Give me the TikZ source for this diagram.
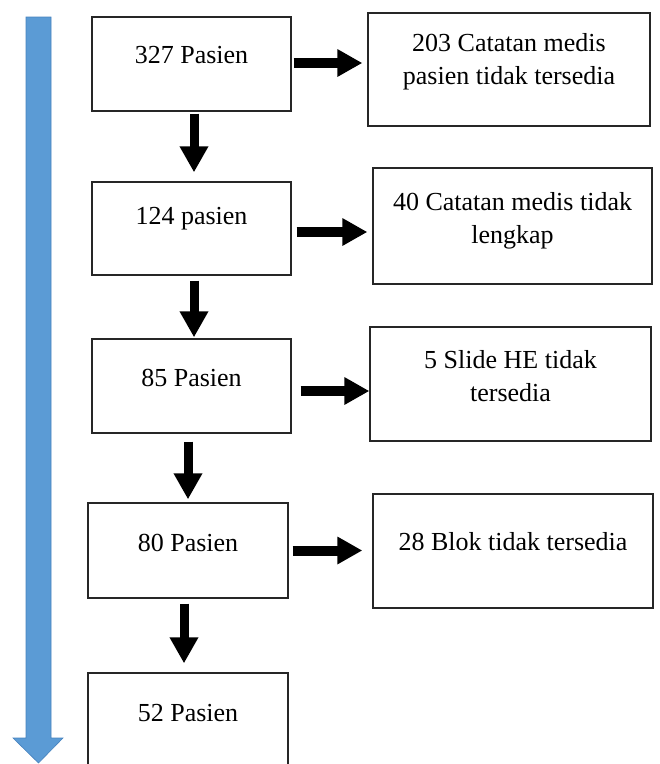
\documentclass[tikz,border=0pt]{standalone}
\usepackage{fontspec}
\setmainfont{Liberation Serif}
\usetikzlibrary{arrows.meta}
\definecolor{flowblue}{RGB}{91,155,213}
\definecolor{flowblueedge}{RGB}{70,130,190}
\begin{document}
\begin{tikzpicture}[x=1pt,y=-1pt,
  box/.style={draw=black!85, line width=1.3pt, rectangle, inner sep=0pt},
  txt/.style={font=\fontsize{26}{33}\selectfont, align=center, inner sep=0pt, text=black},
  darr/.style={line width=9pt, -{Triangle[width=27pt,length=26pt]}},
  rarr/.style={line width=10pt, -{Triangle[width=26pt,length=25pt]}}]
\useasboundingbox (0,0) rectangle (660,764);
% blue timeline arrow
\path[fill=flowblue, draw=flowblueedge, line width=0.6pt]
  (26,17) -- (51,17) -- (51,738) -- (63,738) -- (38.5,763) -- (13,738) -- (26,738) -- cycle;
% left boxes
\node[box, minimum width=199pt, minimum height=94pt] (b1) at (191.5,64) {};
\node[box, minimum width=199pt, minimum height=93pt] (b2) at (191.5,228.5) {};
\node[box, minimum width=199pt, minimum height=94pt] (b3) at (191.5,386) {};
\node[box, minimum width=200pt, minimum height=95pt] (b4) at (188,550.5) {};
\node[box, minimum width=200pt, minimum height=96pt] (b5) at (188,721) {};
\node[txt] (t1) at (191.5,55) {327 Pasien};
\node[txt] (t2) at (191.5,219) {124 pasien};
\node[txt] (t3) at (191.5,378) {85 Pasien};
\node[txt] (t4) at (188,543) {80 Pasien};
\node[txt] (t5) at (188,713) {52 Pasien};
% right boxes
\node[box, minimum width=282pt, minimum height=113pt] (r1) at (509,69.5) {};
\node[box, minimum width=279pt, minimum height=116pt] (r2) at (512.5,226) {};
\node[box, minimum width=281pt, minimum height=114pt] (r3) at (510.5,384) {};
\node[box, minimum width=280pt, minimum height=114pt] (r4) at (513,551) {};
\node[txt] (s1) at (509,62) {203 Catatan medis\\pasien tidak tersedia};
\node[txt] (s2) at (512.5,221) {40 Catatan medis tidak\\lengkap};
\node[txt] (s3) at (510.5,376) {5 Slide HE tidak\\tersedia};
\node[txt] (s4) at (513,542) {28 Blok tidak tersedia};
% down arrows
\draw[darr, shorten <=2pt, shorten >=9pt] ([xshift=2.5pt]b1.south) -- ([xshift=2.5pt]b1.south |- b2.north);
\draw[darr, shorten <=5pt, shorten >=1pt] ([xshift=2.5pt]b2.south) -- ([xshift=2.5pt]b2.south |- b3.north);
\draw[darr, shorten <=8pt, shorten >=3pt] ([xshift=-3.5pt]b3.south) -- ([xshift=-3.5pt]b3.south |- b4.north);
\draw[darr, shorten <=5pt, shorten >=9pt] ([xshift=-4pt]b4.south) -- ([xshift=-4pt]b4.south |- b5.north);
% right arrows
\draw[rarr, shorten <=2pt, shorten >=5pt] ([yshift=1pt]b1.east) -- ([yshift=1pt]b1.east -| r1.west);
\draw[rarr, shorten <=5pt, shorten >=5pt] ([yshift=-3.5pt]b2.east) -- ([yshift=-3.5pt]b2.east -| r2.west);
\draw[rarr, shorten <=9pt, shorten >=0pt] ([yshift=-5pt]b3.east) -- ([yshift=-5pt]b3.east -| r3.west);
\draw[rarr, shorten <=4pt, shorten >=10pt] (b4.east) -- (b4.east -| r4.west);
\end{tikzpicture}
\end{document}
